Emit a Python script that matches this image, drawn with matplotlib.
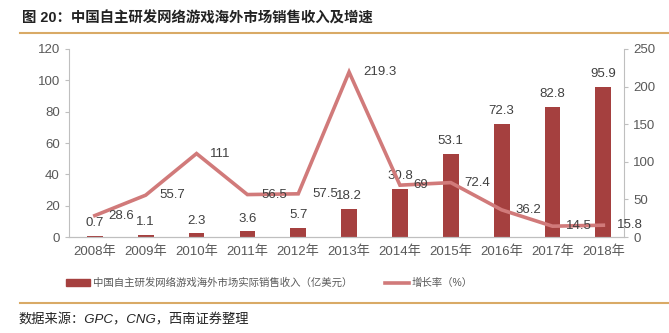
import numpy as np
import matplotlib.pyplot as plt
from matplotlib.lines import Line2D

plt.rcParams['font.family'] = ['Liberation Sans', 'Noto Sans CJK SC']

years = ['2008年', '2009年', '2010年', '2011年', '2012年', '2013年',
         '2014年', '2015年', '2016年', '2017年', '2018年']
revenue = [0.7, 1.1, 2.3, 3.6, 5.7, 18.2, 30.8, 53.1, 72.3, 82.8, 95.9]
growth = [28.6, 55.7, 111, 56.5, 57.5, 219.3, 69, 72.4, 36.2, 14.5, 15.8]

bar_color = '#A5403F'
line_color = '#D17A7A'
grey = '#595959'
gold = '#D9AA66'

fig = plt.figure(figsize=(6.69, 3.33), dpi=100)
ax = fig.add_axes([0.103, 0.288, 0.830, 0.565])
ax2 = ax.twinx()

x = np.arange(len(years))
ax.bar(x, revenue, width=0.31, color=bar_color, zorder=2)
ax2.plot(x, growth, color=line_color, lw=2.6, zorder=3, solid_joinstyle='miter')

ax.set_zorder(1)
ax2.set_zorder(2)

for xi, v in zip(x, revenue):
    ax.annotate('%g' % v, (xi, v), xytext=(0, 5), textcoords='offset points',
                ha='center', va='bottom', fontsize=9.5, color='#404040')
for xi, v in zip(x, growth):
    ax2.annotate('%g' % v, (xi, v), xytext=(10, 0), textcoords='offset points',
                 ha='left', va='center', fontsize=9.5, color='#404040', zorder=5)

ax.set_xlim(-0.51, 10.41)
ax.set_ylim(0, 120)
ax.set_yticks(range(0, 121, 20))
ax2.set_ylim(0, 250)
ax2.set_yticks(range(0, 251, 50))
ax.set_xticks(x)
ax.set_xticklabels(years)

for a in (ax, ax2):
    for s in a.spines.values():
        s.set_color('#BFBFBF')
    a.spines['top'].set_visible(False)
    a.tick_params(colors=grey, labelsize=9.5, length=3, width=0.8)
    a.tick_params(axis='y', colors='#BFBFBF', labelcolor=grey)
ax.tick_params(axis='x', length=0, pad=6)
ax.spines['right'].set_visible(False)
ax2.spines['left'].set_visible(False)

handles = [plt.Rectangle((0, 0), 1, 1, color=bar_color),
           Line2D([0], [0], color=line_color, lw=2.6)]
labels = ['中国自主研发网络游戏海外市场实际销售收入（亿美元）', '增长率（%）']
fig.legend(handles, labels, loc='center', bbox_to_anchor=(0.403, 0.15), ncol=2,
           frameon=False, fontsize=7.5, labelcolor=grey, handlelength=2.3,
           handleheight=0.6, handletextpad=0.3, columnspacing=3.1)

fig.text(0.033, 0.946, '图 20：中国自主研发网络游戏海外市场销售收入及增速',
         fontsize=10.4, fontweight='bold', color='#222222', va='center')
fig.add_artist(Line2D([0.03, 1.0], [0.901, 0.901], color=gold, lw=1.5))
fig.add_artist(Line2D([0.03, 1.0], [0.091, 0.091], color=gold, lw=1.5))
fig.text(0.027, 0.04, '数据来源：GPC，CNG，西南证券整理', fontsize=9.5,
         style='italic', color='#222222', va='center')

fig.savefig('out.png', dpi=100)
